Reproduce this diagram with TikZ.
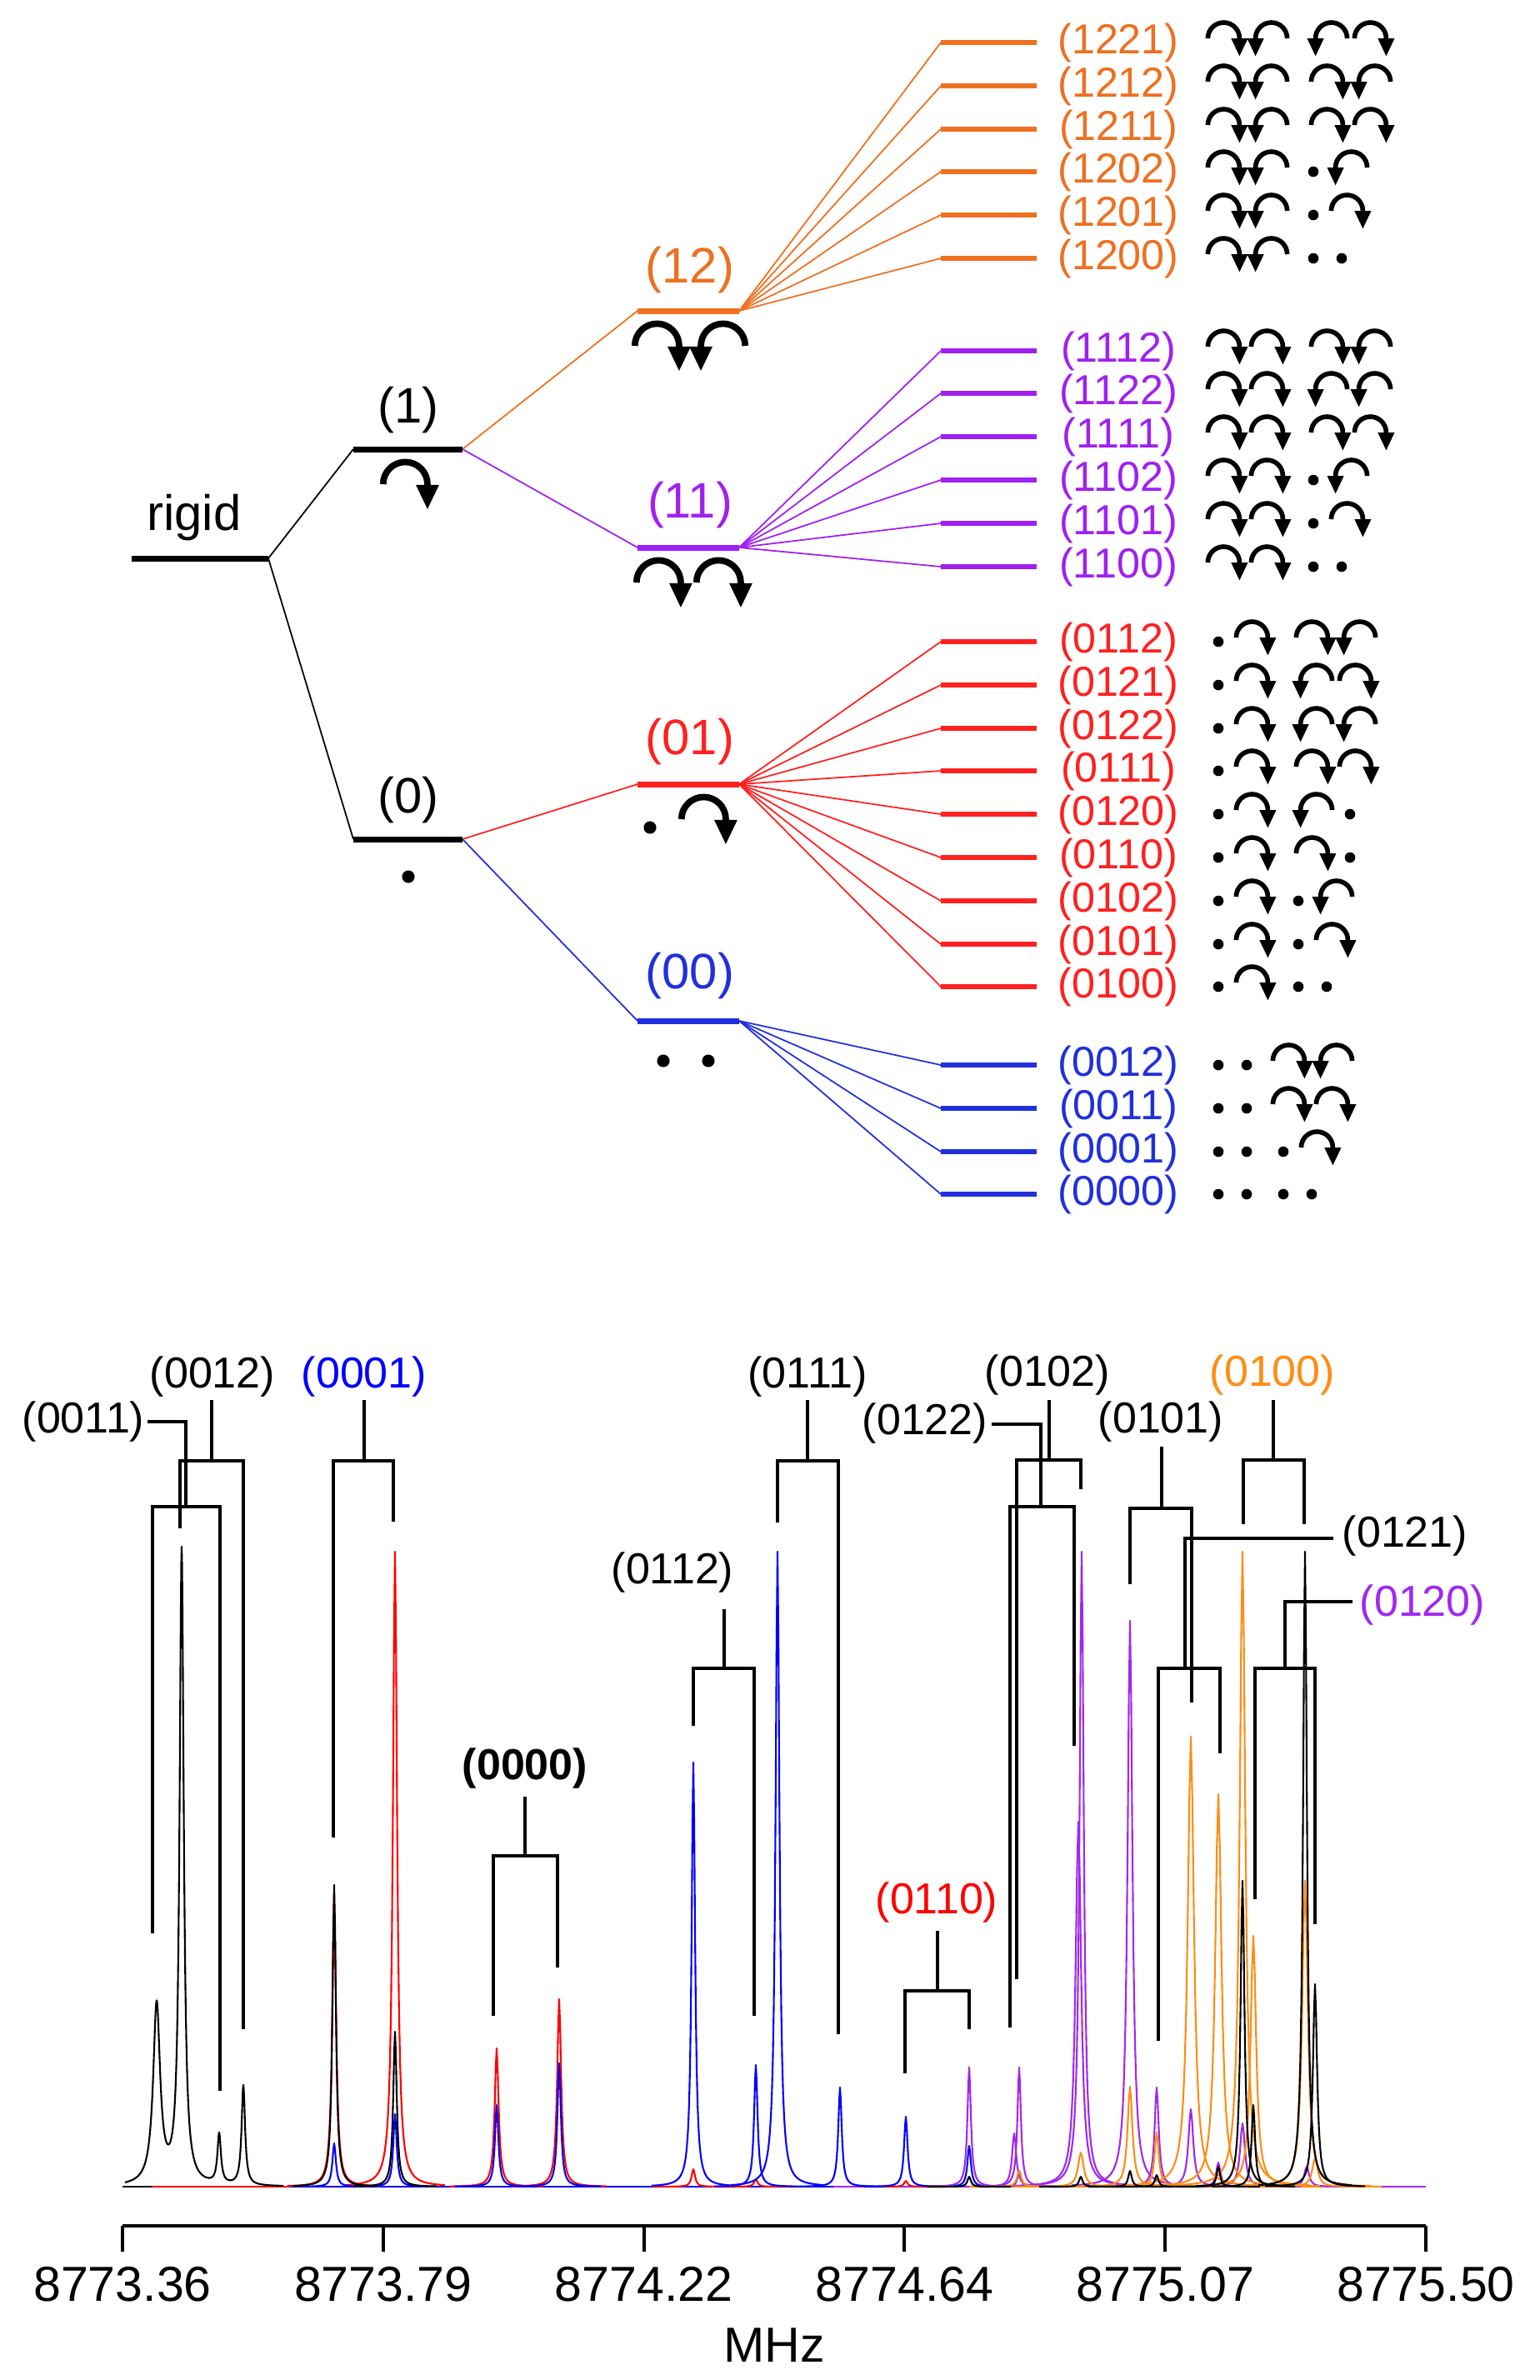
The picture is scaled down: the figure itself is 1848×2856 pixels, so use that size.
\documentclass[tikz,border=0pt]{standalone}
\usepackage{fontspec}
\setmainfont{Liberation Sans}
\usetikzlibrary{arrows.meta}
\definecolor{lorg}{RGB}{238,112,32}
\definecolor{lpur}{RGB}{160,32,240}
\definecolor{lred}{RGB}{255,32,32}
\definecolor{lblu}{RGB}{32,48,220}
\definecolor{sorg}{RGB}{255,140,20}
\definecolor{spur}{RGB}{160,40,240}
\definecolor{sred}{RGB}{255,0,0}
\definecolor{sblu}{RGB}{0,0,255}
\tikzset{
 lvl/.style={line width=2pt},
 rlvl/.style={line width=1.9pt},
 conn/.style={line width=0.5pt},
 brk/.style={line width=0.9pt},
 trace/.style={line width=0.6pt, line join=round},
 gsm/.style={line width=1.6pt,-{Triangle[width=5.2pt,length=6.2pt]}},
 gbg/.style={line width=2.2pt,-{Triangle[width=7.2pt,length=8.5pt]}},
 rlab/.style={font=\fontsize{14.3pt}{15pt}\selectfont, inner sep=0pt},
 mlab/.style={font=\fontsize{17pt}{19pt}\selectfont, inner sep=0pt},
 plab/.style={font=\fontsize{14.8pt}{16pt}\selectfont, inner sep=0pt},
 tlab/.style={font=\fontsize{16.8pt}{18pt}\selectfont, inner sep=0pt},
}
% glyphs: x, y, scale, style
\newcommand\gcw[4]{\draw[#4] ({#1+(-2.6-19)*#3},{#2+5*#3}) arc[start angle=180,end angle=0,radius={19*#3}] -- ++(0,{-22*#3});}
\newcommand\gccw[4]{\draw[#4] ({#1+(2.6+19)*#3},{#2+5*#3}) arc[start angle=0,end angle=180,radius={19*#3}] -- ++(0,{-22*#3});}
\newcommand\gdot[3]{\fill ({#1},{#2}) circle[radius={6.3*#3}];}
\newcommand\glone[2]{%
 \ifnum#2=0
   \pgfmathsetmacro\myGC{\myGX+17}\gdot{\myGC}{#1}{1}\pgfmathsetmacro\myGX{\myGC+17}%
 \else
   \pgfmathsetmacro\myGC{\myGX+26}%
   \ifnum#2=1 \gcw{\myGC}{#1}{1}{gsm}\else\gccw{\myGC}{#1}{1}{gsm}\fi
   \pgfmathsetmacro\myGX{\myGC+26}%
 \fi}
\newcommand\glrow[5]{%
 \def\myGX{1445}%
 \glone{#1}{#2}\glone{#1}{#3}%
 \pgfmathsetmacro\myGX{\myGX+10}%
 \ifnum#3>0 \ifnum#4>0 \pgfmathsetmacro\myGX{\myGX+10}\fi\fi
 \glone{#1}{#4}\glone{#1}{#5}}
% Lorentzian peak: color, x, height, halfwidth
\newcommand\pk[4]{%
 \pgfmathsetmacro\pkd{20*#4}%
 \draw[trace,#1] plot[domain=-\pkd:\pkd,samples=101] ({#2+\x},{-2624+#3/(1+(\x/#4)^2)});}
\begin{document}
\begin{tikzpicture}[x=0.01cm,y=0.01cm]
\useasboundingbox (0,0) rectangle (1848,-2856);
% ---------- energy level diagram ----------
\coordinate (rgL) at (158,-670); \coordinate (rgR) at (322,-670);
\coordinate (aL) at (424,-539); \coordinate (aR) at (555,-539);
\coordinate (zL) at (424,-1007); \coordinate (zR) at (555,-1007);
\coordinate (tL) at (765,-373); \coordinate (tR) at (887,-373);
\coordinate (eL) at (765,-657); \coordinate (eR) at (887,-657);
\coordinate (uL) at (765,-941); \coordinate (uR) at (887,-941);
\coordinate (wL) at (765,-1225); \coordinate (wR) at (887,-1225);
\draw[conn] (rgR) -- (aL);
\draw[conn] (rgR) -- (zL);
\draw[conn,lorg] (aR) -- (tL);
\draw[conn,lpur] (aR) -- (eL);
\draw[conn,lred] (zR) -- (uL);
\draw[conn,lblu] (zR) -- (wL);
\draw[lvl] (rgL) -- (rgR);
\draw[lvl] (aL) -- (aR);
\draw[lvl] (zL) -- (zR);
\draw[lvl,lorg] (tL) -- (tR);
\draw[lvl,lpur] (eL) -- (eR);
\draw[lvl,lred] (uL) -- (uR);
\draw[lvl,lblu] (wL) -- (wR);
\node[mlab] (lrigid) at (233,-621) {rigid};
\node[mlab] (l1) at (490,-492) {(1)};
\node[mlab] (l0) at (490,-960) {(0)};
\node[mlab,lorg] (l12) at (828,-324) {(12)};
\node[mlab,lpur] (l11) at (828,-606) {(11)};
\node[mlab,lred] (l01) at (828,-890) {(01)};
\node[mlab,lblu] (l00) at (828,-1171) {(00)};
\gcw{490}{-588}{1.4}{gbg}
\gdot{490}{-1052}{1.2}
\gcw{792}{-422}{1.4}{gbg}\gccw{864}{-422}{1.4}{gbg}
\gcw{794}{-706}{1.4}{gbg}\gcw{866}{-706}{1.4}{gbg}
\gdot{780}{-993}{1.2}\gcw{848}{-990}{1.4}{gbg}
\gdot{796}{-1273}{1.2}\gdot{850}{-1273}{1.2}
% right column
\foreach \yy/\lab/\qa/\qb/\qc/\qd in {51/1221/1/2/2/1,103/1212/1/2/1/2,155/1211/1/2/1/1,206/1202/1/2/0/2,258/1201/1/2/0/1,310/1200/1/2/0/0}{
 \coordinate (L\lab) at (1129,-\yy); \coordinate (R\lab) at (1244,-\yy);
 \draw[conn,lorg] (tR) -- (L\lab);
 \draw[rlvl,lorg] (L\lab) -- (R\lab);
 \node[rlab,lorg] (n\lab) at (1342,-\yy) {(\lab)};
 \glrow{-\yy}{\qa}{\qb}{\qc}{\qd}
}
\foreach \yy/\lab/\qa/\qb/\qc/\qd in {421/1112/1/1/1/2,472/1122/1/1/2/2,524/1111/1/1/1/1,576/1102/1/1/0/2,628/1101/1/1/0/1,680/1100/1/1/0/0}{
 \coordinate (L\lab) at (1129,-\yy); \coordinate (R\lab) at (1244,-\yy);
 \draw[conn,lpur] (eR) -- (L\lab);
 \draw[rlvl,lpur] (L\lab) -- (R\lab);
 \node[rlab,lpur] (n\lab) at (1342,-\yy) {(\lab)};
 \glrow{-\yy}{\qa}{\qb}{\qc}{\qd}
}
\foreach \yy/\lab/\qa/\qb/\qc/\qd in {770/0112/0/1/1/2,822/0121/0/1/2/1,874/0122/0/1/2/2,925/0111/0/1/1/1,977/0120/0/1/2/0,1029/0110/0/1/1/0,1081/0102/0/1/0/2,1133/0101/0/1/0/1,1184/0100/0/1/0/0}{
 \coordinate (L\lab) at (1129,-\yy); \coordinate (R\lab) at (1244,-\yy);
 \draw[conn,lred] (uR) -- (L\lab);
 \draw[rlvl,lred] (L\lab) -- (R\lab);
 \node[rlab,lred] (n\lab) at (1342,-\yy) {(\lab)};
 \glrow{-\yy}{\qa}{\qb}{\qc}{\qd}
}
\foreach \yy/\lab/\qa/\qb/\qc/\qd in {1278/0012/0/0/1/2,1330/0011/0/0/1/1,1382/0001/0/0/0/1,1433/0000/0/0/0/0}{
 \coordinate (L\lab) at (1129,-\yy); \coordinate (R\lab) at (1244,-\yy);
 \draw[conn,lblu] (wR) -- (L\lab);
 \draw[rlvl,lblu] (L\lab) -- (R\lab);
 \node[rlab,lblu] (n\lab) at (1342,-\yy) {(\lab)};
 \glrow{-\yy}{\qa}{\qb}{\qc}{\qd}
}
% ---------- spectrum ----------
\draw[trace] (147,-2624) -- (1711,-2624);
\draw[trace,sred] (183,-2624) -- (1110,-2624);
\draw[trace,sblu] (347,-2624) -- (1330,-2624);
\draw[trace,spur] (1000,-2624) -- (1711,-2624);
\draw[trace,sorg] (1180,-2624) -- (1620,-2624);
% red
\pk{sred}{401}{348}{2.8}\pk{sred}{474}{762}{3}\pk{sred}{596}{166}{2.8}\pk{sred}{671}{225}{2.8}
\pk{sred}{832}{21}{2.5}\pk{sred}{907}{9}{2.5}\pk{sred}{1087}{7}{2.5}
% blue
\pk{sblu}{401}{52}{2.5}\pk{sblu}{474}{87}{2.5}\pk{sblu}{596}{98}{2.5}\pk{sblu}{671}{148}{2.5}
\pk{sblu}{832}{509}{2.5}\pk{sblu}{907}{146}{2.5}\pk{sblu}{933}{762}{2.8}\pk{sblu}{1008}{119}{2.5}
\pk{sblu}{1087}{84}{2.5}\pk{sblu}{1163}{49}{2.5}\pk{sblu}{1223}{19}{2.5}
% purple
\pk{spur}{1163}{143}{2.5}\pk{spur}{1217}{64}{3}\pk{spur}{1223}{143}{2.5}\pk{spur}{1294}{438}{4}
\pk{spur}{1298}{762}{3}\pk{spur}{1356}{679}{3.5}\pk{spur}{1388}{119}{3}\pk{spur}{1429}{93}{3.5}
\pk{spur}{1462}{29}{3}\pk{spur}{1491}{76}{3.5}\pk{spur}{1568}{24}{3.5}
% orange
\pk{sorg}{1223}{19}{3}\pk{sorg}{1297}{41}{4}\pk{sorg}{1356}{120}{3.5}\pk{sorg}{1388}{65}{3}
\pk{sorg}{1429}{540}{4.5}\pk{sorg}{1462}{471}{4.5}\pk{sorg}{1491}{762}{4}\pk{sorg}{1504}{301}{4}
\pk{sorg}{1566}{367}{4}\pk{sorg}{1578}{34}{4}
% black
\draw[trace] plot[domain=150:340,samples=381] (\x,{-2624+216/(1+((\x-188)/5)^2)+762/(1+((\x-218)/3)^2)+60/(1+((\x-263)/2.5)^2)+120/(1+((\x-292)/2.5)^2)});
\pk{black}{401}{362}{2.5}\pk{black}{474}{186}{2.5}\pk{black}{1163}{12}{2.5}\pk{black}{1297}{12}{2.5}
\pk{black}{1356}{19}{2.5}\pk{black}{1388}{14}{2.5}\pk{black}{1462}{24}{2.5}\pk{black}{1491}{367}{2.8}
\pk{black}{1504}{98}{2.5}\pk{black}{1566}{762}{2.8}\pk{black}{1578}{243}{3}
% axis
\coordinate (ax0) at (147,-2671); \coordinate (ax1) at (1711,-2671);
\draw[line width=1.1pt] (ax0) -- (ax1);
\foreach \i/\t in {0/8773.36,1/8773.79,2/8774.22,3/8774.64,4/8775.07,5/8775.50}{
 \draw[line width=1.1pt] ({147+312.8*\i},-2671) -- ({147+312.8*\i},-2702);
 \node[tlab] (tk\i) at ({147+312.8*\i},-2741) {\t};
}
\node[tlab] (mhz) at (929,-2814) {MHz};
% ---------- brackets ----------
\node[plab] (s0011) at (100,-1706) {(0011)};
\coordinate (b0011) at (223,-1808);
\draw[brk] (s0011.east) ++(3,0) -| (b0011);
\draw[brk] (183,-2320) |- (264,-1808) -- (264,-2509);
\node[plab] (s0012) at (255,-1652) {(0012)};
\coordinate (b0012) at (254,-1753);
\draw[brk] (254,-1680) -- (b0012);
\draw[brk] (216,-1834) |- (292,-1753) -- (292,-2435);
\node[plab,sblu] (s0001) at (437,-1652) {(0001)};
\coordinate (b0001) at (437,-1753);
\draw[brk] (437,-1680) -- (b0001);
\draw[brk] (400,-2205) |- (472,-1753) -- (472,-1826);
\node[plab,font=\fontsize{14.8pt}{16pt}\selectfont\bfseries] (s0000) at (630,-2122) {(0000)};
\coordinate (b0000) at (630,-2227);
\draw[brk] (630,-2156) -- (b0000);
\draw[brk] (592,-2419) |- (669,-2227) -- (669,-2361);
\node[plab] (s0112) at (807,-1887) {(0112)};
\coordinate (b0112) at (869,-2002);
\draw[brk] (869,-1931) -- (b0112);
\draw[brk] (832,-2071) |- (905,-2002) -- (905,-2419);
\node[plab] (s0111) at (969,-1652) {(0111)};
\coordinate (b0111) at (969,-1753);
\draw[brk] (969,-1680) -- (b0111);
\draw[brk] (933,-1827) |- (1006,-1753) -- (1006,-2441);
\node[plab,sred] (s0110) at (1124,-2283) {(0110)};
\coordinate (b0110) at (1125,-2389);
\draw[brk] (1125,-2317) -- (b0110);
\draw[brk] (1086,-2488) |- (1163,-2389) -- (1163,-2435);
\node[plab] (s0102) at (1257,-1650) {(0102)};
\coordinate (b0102) at (1259,-1752);
\draw[brk] (1259,-1680) -- (b0102);
\draw[brk] (1220,-2375) |- (1297,-1752) -- (1297,-1787);
\node[plab] (s0122) at (1110,-1708) {(0122)};
\coordinate (b0122) at (1249,-1808);
\draw[brk] (1190,-1709) -| (b0122);
\draw[brk] (1212,-2433) |- (1289,-1808) -- (1289,-2095);
\node[plab] (s0101) at (1393,-1706) {(0101)};
\coordinate (b0101) at (1394,-1810);
\draw[brk] (1394,-1736) -- (b0101);
\draw[brk] (1356,-1901) |- (1430,-1810) -- (1430,-2043);
\node[plab,sorg] (s0100) at (1527,-1650) {(0100)};
\coordinate (b0100) at (1528,-1752);
\draw[brk] (1528,-1680) -- (b0100);
\draw[brk] (1492,-1829) |- (1565,-1752) -- (1565,-1829);
\node[plab] (s0121) at (1686,-1843) {(0121)};
\coordinate (b0121) at (1422,-2002);
\draw[brk] (1600,-1846) -| (b0121);
\draw[brk] (1390,-2449) |- (1464,-2002) -- (1464,-2104);
\node[plab,spur] (s0120) at (1707,-1926) {(0120)};
\coordinate (b0120) at (1542,-2002);
\draw[brk] (1623,-1922) -| (b0120);
\draw[brk] (1506,-2279) |- (1578,-2002) -- (1578,-2309);
\end{tikzpicture}
\end{document}
